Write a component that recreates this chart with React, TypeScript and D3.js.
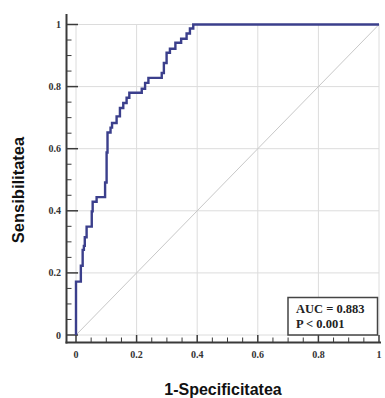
import React from "react";
import * as d3 from "d3";

// ROC operating points (1-specificity, sensitivity)
const rocFpr = [0, 0, 0.016, 0.022, 0.026, 0.029, 0.035, 0.052, 0.055, 0.068, 0.096, 0.101, 0.104, 0.114, 0.119, 0.134, 0.145, 0.156, 0.167, 0.176, 0.217, 0.228, 0.239, 0.283, 0.29, 0.299, 0.31, 0.328, 0.347, 0.365, 0.376, 0.387, 1];
const rocTpr = [0, 0.172, 0.223, 0.274, 0.287, 0.315, 0.349, 0.398, 0.429, 0.444, 0.491, 0.588, 0.652, 0.668, 0.683, 0.704, 0.731, 0.747, 0.764, 0.78, 0.793, 0.812, 0.828, 0.844, 0.876, 0.909, 0.922, 0.941, 0.954, 0.971, 0.987, 1, 1];
const majorTicks = [0, 0.2, 0.4, 0.6, 0.8, 1];
const tickLabels = ["0", "0.2", "0.4", "0.6", "0.8", "1"];
const legendLines = ["AUC = 0.883", "P < 0.001"];
const xTitle = "1-Specificitatea";
const yTitle = "Sensibilitatea";

export default function App() {
  const W = 385, H = 398;
  const x = d3.scaleLinear().domain([0, 1]).range([76, 379]);
  const y = d3.scaleLinear().domain([0, 1]).range([335, 24.5]);
  const axX = 66.5; // left axis line x
  const axY = 342.5; // bottom axis line y
  const minor = d3.range(0, 1.0001, 0.05).map((v) => +v.toFixed(2)).filter((v) => !majorTicks.includes(v));
  const pts: [number, number][] = rocFpr.map((f, i) => [f, rocTpr[i]]);
  const line = d3.line<[number, number]>().x((d) => x(d[0])).y((d) => y(d[1])).curve(d3.curveStepAfter);
  const serif = "'Liberation Serif', 'Times New Roman', serif";
  const sans = "'Liberation Sans', Arial, sans-serif";
  return (
    <svg width={W} height={H} style={{ position: "absolute", left: 0, top: 0 }}>
      <rect width={W} height={H} fill="#fff" />
      {/* grid */}
      {majorTicks.map((t) => (
        <g key={"g" + t}>
          <line x1={x(t)} x2={x(t)} y1={y(0)} y2={y(1)} stroke="#dcdcdc" strokeWidth={1} />
          <line x1={x(0)} x2={x(1)} y1={y(t)} y2={y(t)} stroke="#dcdcdc" strokeWidth={1} />
        </g>
      ))}
      {/* diagonal */}
      <line x1={x(0)} y1={y(0)} x2={x(1)} y2={y(1)} stroke="#c8c8c8" strokeWidth={1} />
      {/* axes */}
      <line x1={axX} x2={axX} y1={14} y2={axY + 1} stroke="#3a3a3a" strokeWidth={2} />
      <line x1={axX - 1} x2={381} y1={axY} y2={axY} stroke="#3a3a3a" strokeWidth={2} />
      {majorTicks.map((t, i) => (
        <g key={"t" + t}>
          <line x1={axX} x2={x(0) + 2} y1={y(t)} y2={y(t)} stroke="#3a3a3a" strokeWidth={1.5} />
          <line x1={x(t)} x2={x(t)} y1={axY} y2={y(0)} stroke="#3a3a3a" strokeWidth={1.5} />
          <text x={61} y={y(t) + 3.5} textAnchor="end" fontFamily={serif} fontWeight="bold" fontSize={10} fill="#333">{tickLabels[i]}</text>
          <text x={x(t)} y={358} textAnchor="middle" fontFamily={serif} fontWeight="bold" fontSize={10} fill="#333">{tickLabels[i]}</text>
        </g>
      ))}
      {minor.map((t) => (
        <g key={"m" + t}>
          <line x1={axX} x2={axX + 5} y1={y(t)} y2={y(t)} stroke="#3a3a3a" strokeWidth={1} />
          <line x1={x(t)} x2={x(t)} y1={axY} y2={axY - 5} stroke="#3a3a3a" strokeWidth={1} />
        </g>
      ))}
      {/* ROC curve */}
      <path d={line(pts) || ""} fill="none" stroke="#3b3f8c" strokeWidth={2.4} />
      {/* legend */}
      <rect x={288} y={297.5} width={89.5} height={37.5} fill="#fff" stroke="#444" strokeWidth={1.5} />
      {legendLines.map((s, i) => (
        <text key={s} x={296} y={313 + i * 14.5} fontFamily={serif} fontWeight="bold" fontSize={12.5} fill="#222">{s}</text>
      ))}
      {/* titles */}
      <text x={223} y={395} textAnchor="middle" fontFamily={sans} fontWeight="bold" fontSize={16} fill="#111">{xTitle}</text>
      <text transform={`translate(24,190) rotate(-90)`} textAnchor="middle" fontFamily={sans} fontWeight="bold" fontSize={16.5} fill="#111">{yTitle}</text>
    </svg>
  );
}
